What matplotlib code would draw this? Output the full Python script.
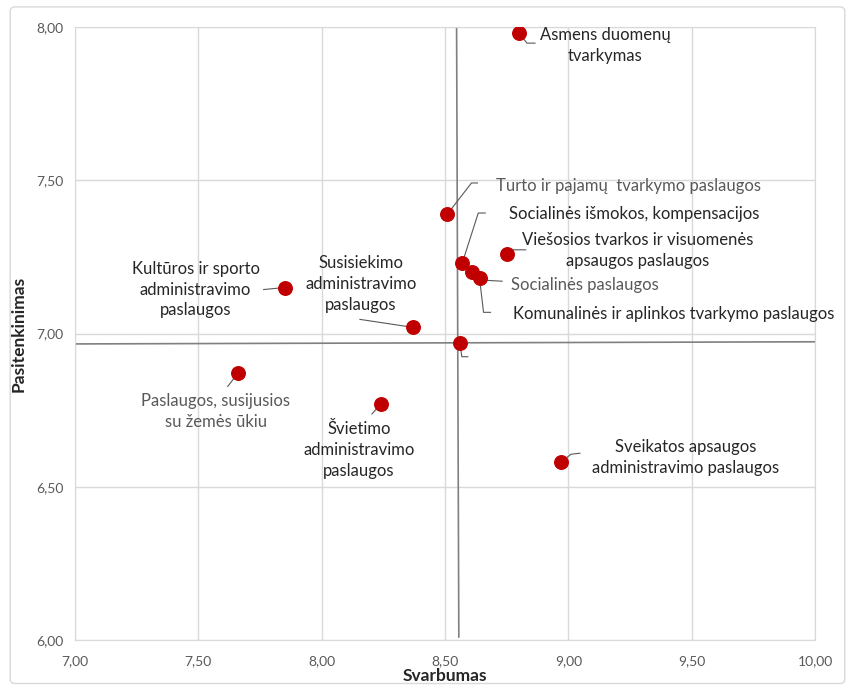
import matplotlib.pyplot as plt
from matplotlib.patches import FancyBboxPatch

# duomenys
labels = [
    "Asmens duomenų\ntvarkymas",
    "Turto ir pajamų  tvarkymo paslaugos",
    "Socialinės išmokos, kompensacijos",
    "Viešosios tvarkos ir visuomenės\napsaugos paslaugos",
    "Socialinės paslaugos",
    "Komunalinės ir aplinkos tvarkymo paslaugos",
    "Kultūros ir sporto\nadministravimo\npaslaugos",
    "Susisiekimo\nadministravimo\npaslaugos",
    "",
    "Paslaugos, susijusios\nsu žemės ūkiu",
    "Švietimo\nadministravimo\npaslaugos",
    "Sveikatos apsaugos\nadministravimo paslaugos",
]
svarbumas = [8.80, 8.51, 8.57, 8.75, 8.61, 8.64, 7.85, 8.37, 8.56, 7.66, 8.24, 8.97]
pasitenkinimas = [7.98, 7.39, 7.23, 7.26, 7.20, 7.18, 7.15, 7.02, 6.97, 6.87, 6.77, 6.58]

avg_v_x = [8.547, 8.556]
avg_v_y = [7.995, 6.01]
avg_h_x = [7.0, 10.0]
avg_h_y = [6.966, 6.973]

xticks = [7.0, 7.5, 8.0, 8.5, 9.0, 9.5, 10.0]
yticks = [6.0, 6.5, 7.0, 7.5, 8.0]

# label placement: (text dx, dy in px, ha, color, leader polyline offsets in px)
BLACK = "#262626"
GRAY = "#595959"
layout = [
    (86, -12, "center", BLACK, [(0, 0), (8, -10), (16, -10)]),
    (49, 28, "left", GRAY, [(0, 0), (24, 31), (30, 31)]),
    (47, 49, "left", BLACK, [(0, 0), (16, 50), (23, 50)]),
    (131, 3, "center", BLACK, [(0, 0), (7, 4), (19, 4)]),
    (39, -13, "left", GRAY, [(0, 0), (12, -8), (30, -9)]),
    (33, -36, "left", BLACK, [(0, 0), (4, -34), (11, -34)]),
    (-89, -2, "center", BLACK, [(0, 0), (-21, -2)]),
    (-52, 43, "center", BLACK, [(0, 0), (-53, 8)]),
    (0, 0, "center", BLACK, [(0, 0), (2, -14), (8, -14)]),
    (-22, -38, "center", GRAY, [(0, 0), (-10, -13)]),
    (-22, -46, "center", BLACK, [(0, 0), (-9, -10)]),
    (125, 5, "center", BLACK, [(0, 0), (10, 8), (19, 9)]),
]

fig = plt.figure(figsize=(8.49, 6.89), dpi=100)
fig.patches.append(FancyBboxPatch((0.012, 0.008), 0.983, 0.982,
                                  boxstyle="round,pad=0,rounding_size=0.006",
                                  transform=fig.transFigure, fill=False,
                                  edgecolor="#d9d9d9", linewidth=1))
ax = fig.add_axes([0.0883, 0.0711, 0.8717, 0.8897])

ax.set_xlim(7, 10)
ax.set_ylim(6, 8)
ax.set_xticks(xticks)
ax.set_yticks(yticks)
ax.set_xticklabels([f"{v:.2f}".replace(".", ",") for v in xticks])
ax.set_yticklabels([f"{v:.2f}".replace(".", ",") for v in yticks])
ax.tick_params(length=0, labelsize=10, labelcolor=GRAY)
ax.tick_params(axis="x", pad=11)
ax.tick_params(axis="y", pad=8)
for lab in ax.get_xticklabels() + ax.get_yticklabels():
    lab.set_family(["Lato", "DejaVu Sans"])
ax.grid(True, color="#d9d9d9", linewidth=1)
ax.set_axisbelow(True)
for s in ax.spines.values():
    s.set_color("#d9d9d9")

ax.set_xlabel("Svarbumas", fontsize=12.5, fontweight="bold", color=BLACK,
              family=["Lato", "DejaVu Sans"])
ax.xaxis.set_label_coords(0.5, -0.0585, transform=ax.transAxes)
ax.xaxis.label.set_va("center")
ax.set_ylabel("Pasitenkinimas", fontsize=12.5, fontweight="bold", color=BLACK,
              family=["Lato", "DejaVu Sans"])
ax.yaxis.set_label_coords(-0.0655, 0.5)

ax.plot(avg_v_x, avg_v_y, color="#808080", linewidth=1.2, zorder=2)
ax.plot(avg_h_x, avg_h_y, color="#808080", linewidth=1.2, zorder=2)

ax.scatter(svarbumas, pasitenkinimas, s=95, color="#C00000", zorder=4)

for x, y, lab, (dx, dy, ha, col, leader) in zip(svarbumas, pasitenkinimas, labels, layout):
    px, py = ax.transData.transform((x, y))
    ax.plot([px + a for a, b in leader], [py + b for a, b in leader],
            color="#595959", linewidth=0.8, transform=None, zorder=3)
    if lab:
        ax.annotate(lab, (x, y), xytext=(dx, dy), textcoords="offset pixels",
                    ha=ha, va="center", fontsize=12, color=col,
                    family=["Lato", "DejaVu Sans"], linespacing=1.38)

fig.savefig("out.png", dpi=100)
